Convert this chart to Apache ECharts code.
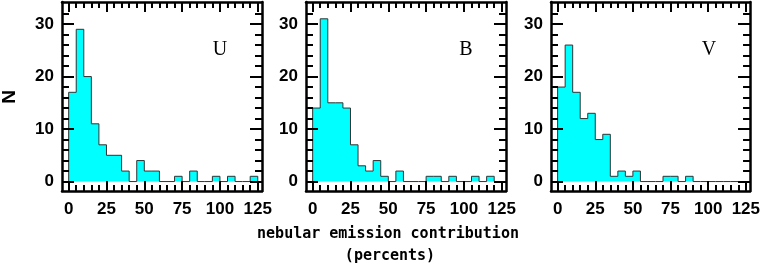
<!DOCTYPE html>
<html>
<head>
<meta charset="utf-8">
<script src="https://cdn.jsdelivr.net/npm/echarts@6/dist/echarts.min.js"></script>
<style>
html,body{margin:0;padding:0;background:#fff;}
#chart{width:763px;height:267px;}
</style>
</head>
<body>
<div id="chart"></div>
<script>
// ---- data ----
const binEdges = [0,5,10,15,20,25,30,35,40,45,50,55,60,65,70,75,80,85,90,95,100,105,110,115,120,125];
const countsU = [17,29,20,11,7,5,5,2,0,4,2,2,0,0,1,0,2,0,0,1,0,1,0,0,1];
const countsB = [14,31,15,15,14,7,3,2,4,1,0,2,0,0,0,1,1,0,1,0,0,1,0,1,0];
const countsV = [18,26,17,12,13,8,9,1,2,1,2,0,0,0,1,1,0,1,0,0,0,0,0,0,0];
const panelNames = ['U','B','V'];
const xTickMajor = [0,25,50,75,100,125];
const xTickMinor = [0,5,10,15,20,25,30,35,40,45,50,55,60,65,70,75,80,85,90,95,100,105,110,115,120,125];
const yTickMajor = [0,10,20,30];
const yTickMinor = [0,2,4,6,8,10,12,14,16,18,20,22,24,26,28,30,32];
const yLabel = 'N';
const xLabelLine1 = 'nebular emission contribution';
const xLabelLine2 = '(percents)';

// ---- layout ----
const panelLeft = [62, 306, 551];
const gridTop = 2, gridW = 200, gridH = 189;
const X_MIN = -4.4, X_MAX = 127.8;
const Y_MIN = -1.8, Y_MAX = 34.2;
const frameW = 2.5, tickW = 2;
const tickFont = {fontFamily:'Liberation Sans', fontWeight:'bold', fontSize:17, color:'#000'};

function histPoints(counts){
  const pts = [[binEdges[0],0]];
  counts.forEach((c,i)=>pts.push([binEdges[i],c]));
  const last = binEdges[binEdges.length-1];
  pts.push([last, counts[counts.length-1]]);
  pts.push([last, 0]);
  return pts;
}

const grids=[], xAxes=[], yAxes=[], series=[];
const allCounts=[countsU,countsB,countsV];

function axisBase(type, gi, pos, ticks, len, showLine, labels){
  const o = {
    type:'value', gridIndex:gi, position:pos, offset:0, z:5,
    min: type==='x'?X_MIN:Y_MIN, max: type==='x'?X_MAX:Y_MAX,
    splitLine:{show:false},
    axisLine:{show:showLine, onZero:false, lineStyle:{color:'#000', width:frameW}},
    axisTick:{show:true, inside:true, length:len, customValues:ticks, lineStyle:{color:'#000', width:tickW}},
    axisLabel: labels ? Object.assign({show:true, customValues:labels, margin: type==='x'?10:8}, tickFont) : {show:false}
  };
  return o;
}

for(let p=0;p<3;p++){
  grids.push({left:panelLeft[p], top:gridTop, width:gridW, height:gridH, containLabel:false});
  xAxes.push(axisBase('x',p,'bottom',xTickMinor,6,true,xTickMajor));
  xAxes.push(axisBase('x',p,'bottom',xTickMajor,10,false,null));
  xAxes.push(axisBase('x',p,'top',xTickMinor,6,true,null));
  xAxes.push(axisBase('x',p,'top',xTickMajor,10,false,null));
  yAxes.push(axisBase('y',p,'left',yTickMinor,7,true,yTickMajor));
  yAxes.push(axisBase('y',p,'left',yTickMajor,12,false,null));
  yAxes.push(axisBase('y',p,'right',yTickMinor,7,true,null));
  yAxes.push(axisBase('y',p,'right',yTickMajor,12,false,null));
  series.push({
    type:'line', xAxisIndex:4*p, yAxisIndex:4*p, step:'end', symbol:'none', z:1,
    data:histPoints(allCounts[p]),
    lineStyle:{color:'#333', width:1},
    areaStyle:{color:'#00ffff', opacity:1}
  });
}

const graphics = [];
const letterX = [220, 466, 709];
for(let p=0;p<3;p++){
  graphics.push({type:'text', x:letterX[p], y:50, style:{text:panelNames[p], font:'20px "Liberation Serif"', fill:'#000', textAlign:'center', textVerticalAlign:'middle'}});
}
graphics.push({type:'text', x:10, y:97, rotation:Math.PI/2, style:{text:yLabel, font:'bold 19px "Liberation Sans"', fill:'#000', textAlign:'center', textVerticalAlign:'middle'}});
graphics.push({type:'text', x:388, y:234, style:{text:xLabelLine1, font:'bold 15px "DejaVu Sans Mono"', fill:'#000', textAlign:'center', textVerticalAlign:'middle'}});
graphics.push({type:'text', x:390, y:256, style:{text:xLabelLine2, font:'bold 15px "DejaVu Sans Mono"', fill:'#000', textAlign:'center', textVerticalAlign:'middle'}});

const chart = echarts.init(document.getElementById('chart'), null, {renderer:'canvas'});
chart.setOption({
  animation:false,
  backgroundColor:'#fff',
  grid:grids, xAxis:xAxes, yAxis:yAxes, series:series,
  graphic:graphics
});
</script>
</body>
</html>
